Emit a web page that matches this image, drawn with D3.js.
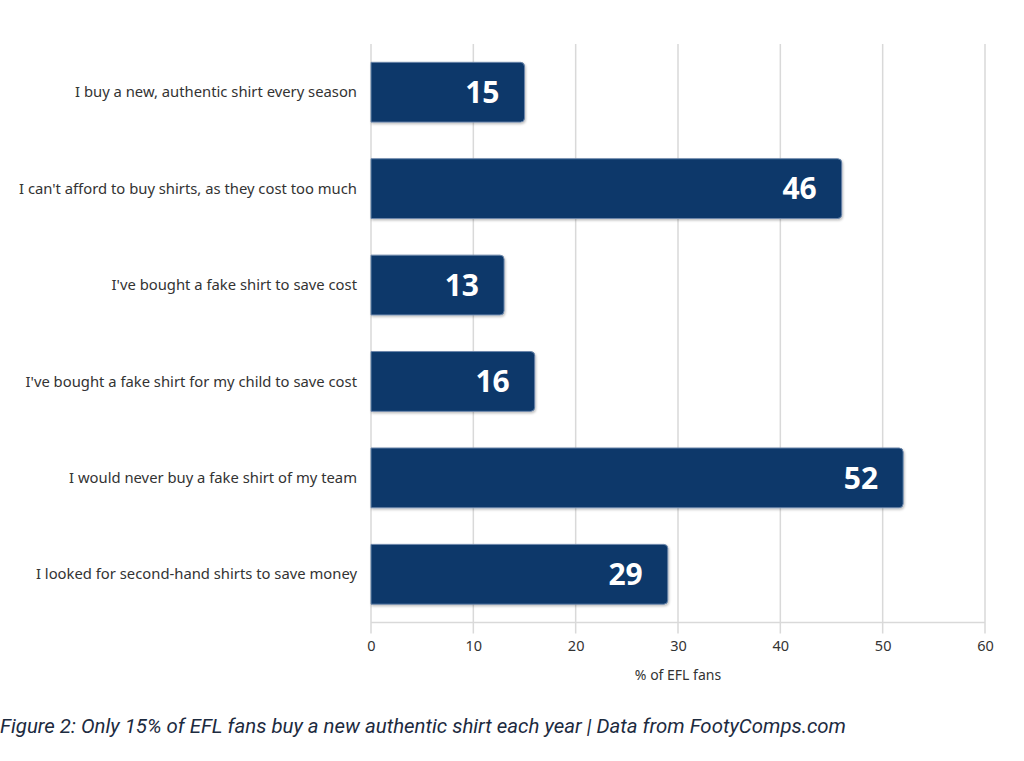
<!DOCTYPE html>
<html>
<head>
<meta charset="utf-8">
<script src="https://cdn.jsdelivr.net/npm/d3@7"></script>
<style>
  body { margin: 0; background: #fff; }
  svg { display: block; }
</style>
</head>
<body>
<svg id="chart" width="1024" height="761"></svg>
<script>
// survey answers, top to bottom
const categories = [
	"I buy a new, authentic shirt every season",
	"I can't afford to buy shirts, as they cost too much",
	"I've bought a fake shirt to save cost",
	"I've bought a fake shirt for my child to save cost",
	"I would never buy a fake shirt of my team",
	"I looked for second-hand shirts to save money"
]
const values = [15, 46, 13, 16, 52, 29]
const xTicks = [0, 10, 20, 30, 40, 50, 60]
const xTitle = "% of EFL fans"
const caption = "Figure 2: Only 15% of EFL fans buy a new authentic shirt each year | Data from FootyComps.com"

const svg = d3.select('#chart')
const margin = { top: 44, right: 39, bottom: 138.5, left: 371 }
const width = 1024 - margin.left - margin.right,
	height = 761 - margin.top - margin.bottom

const x = d3.scaleLinear().domain([0, 60]).range([0, width])
const y = d3.scaleBand().domain(categories).range([0, height]).paddingInner(0.38).paddingOuter(0.19)

// shadow for the bars
const defs = svg.append('defs')
const f = defs.append('filter').attr('id', 'shadow').attr('x', '-5%').attr('y', '-10%').attr('width', '110%').attr('height', '130%')
f.append('feDropShadow').attr('dx', 1).attr('dy', 1.5).attr('stdDeviation', 1.2).attr('flood-color', '#000').attr('flood-opacity', 0.25)

const g = svg.append('g').attr('transform', 'translate(' + margin.left + ',' + margin.top + ')')

// gridlines
g.selectAll('.grid')
	.data(xTicks)
	.enter()
	.append('line')
	.attr('class', 'grid')
	.attr('x1', d => x(d)).attr('x2', d => x(d))
	.attr('y1', 0).attr('y2', height + 11)
	.attr('stroke', '#d9d9d9')
	.attr('stroke-width', 1.5)

g.append('line')
	.attr('x1', 0).attr('x2', width)
	.attr('y1', height).attr('y2', height)
	.attr('stroke', '#d9d9d9')
	.attr('stroke-width', 1.5)

// x tick labels
const xAxis = g.append('g')
	.attr('transform', 'translate(0,' + height + ')')
	.call(d3.axisBottom(x).tickValues(xTicks).tickSize(0).tickPadding(18))
xAxis.select('.domain').remove()
xAxis.selectAll('text')
	.attr('font-family', '"Noto Sans", sans-serif')
	.attr('font-size', 14.5)
	.attr('fill', '#333')

g.append('text')
	.attr('x', x(30))
	.attr('y', height + 57)
	.attr('text-anchor', 'middle')
	.attr('font-family', '"Noto Sans", sans-serif')
	.attr('font-size', 14)
	.attr('fill', '#333')
	.text(xTitle)

// category labels
g.selectAll('.cat')
	.data(categories)
	.enter()
	.append('text')
	.attr('class', 'cat')
	.attr('x', -14)
	.attr('y', d => y(d) + y.bandwidth() / 2)
	.attr('dy', '0.35em')
	.attr('text-anchor', 'end')
	.attr('font-family', '"Noto Sans", sans-serif')
	.attr('font-size', 14.8)
	.attr('fill', '#333')
	.text(d => d)

// bars, rounded on the right only
const r = 4
const barPath = (x0, y0, w, h) =>
	'M' + x0 + ',' + y0 +
	'H' + (x0 + w - r) +
	'Q' + (x0 + w) + ',' + y0 + ' ' + (x0 + w) + ',' + (y0 + r) +
	'V' + (y0 + h - r) +
	'Q' + (x0 + w) + ',' + (y0 + h) + ' ' + (x0 + w - r) + ',' + (y0 + h) +
	'H' + x0 + 'Z'

g.selectAll('.bar')
	.data(values)
	.enter()
	.append('path')
	.attr('class', 'bar')
	.attr('d', (d, i) => barPath(x(0), y(categories[i]), x(d) - x(0), y.bandwidth()))
	.attr('fill', '#07386b')
	.attr('stroke', '#6d86aa')
	.attr('stroke-width', 1)
	.attr('filter', 'url(#shadow)')

// value labels
g.selectAll('.val')
	.data(values)
	.enter()
	.append('text')
	.attr('class', 'val')
	.attr('x', d => x(d) - 25)
	.attr('y', (d, i) => y(categories[i]) + y.bandwidth() / 2)
	.attr('dy', '0.36em')
	.attr('text-anchor', 'end')
	.attr('font-family', '"Noto Sans", sans-serif')
	.attr('font-weight', 'bold')
	.attr('font-size', 30)
	.attr('fill', '#fff')
	.text(d => d)

// caption, fitted to the width it has in the figure
svg.append('text')
	.attr('x', 0)
	.attr('y', 733)
	.attr('font-family', '"Liberation Sans Narrow", "Roboto", sans-serif')
	.attr('font-style', 'italic')
	.attr('font-size', 20)
	.attr('fill', '#1d2b3f')
	.attr('textLength', 846)
	.attr('lengthAdjust', 'spacingAndGlyphs')
	.text(caption)
</script>
</body>
</html>
